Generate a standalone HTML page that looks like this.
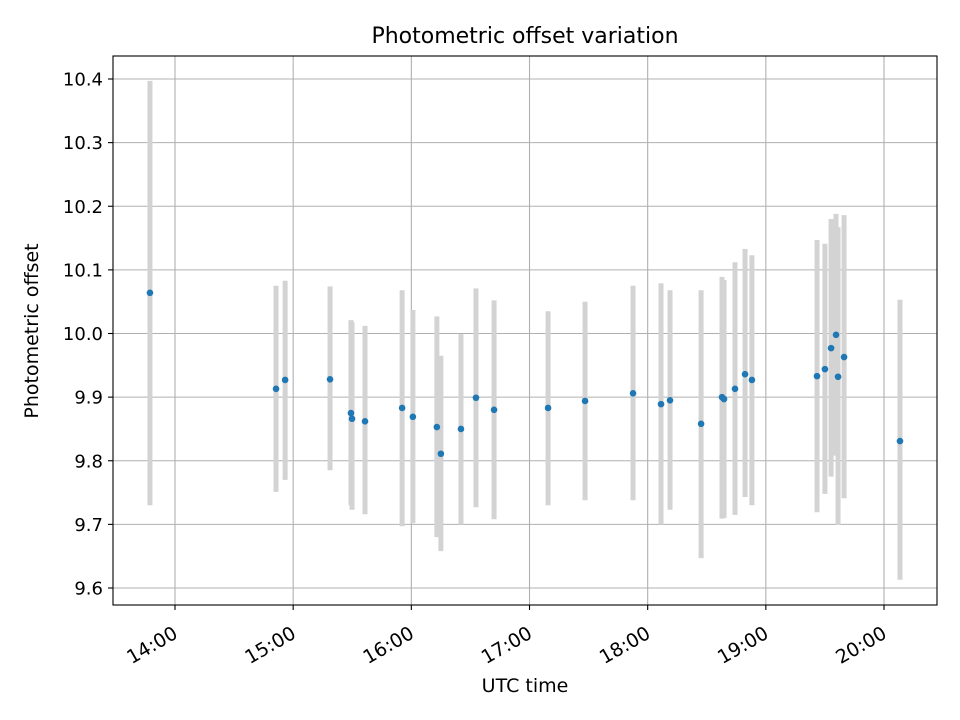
<!DOCTYPE html>
<html><head><meta charset="utf-8"><style>
body{margin:0;background:#fff;}
svg{display:block;font-family:"DejaVu Sans","Liberation Sans",sans-serif;}
</style></head><body>
<svg id="chart" width="960" height="720" viewBox="0 0 960 720" xmlns="http://www.w3.org/2000/svg">
<rect width="960" height="720" fill="#fff"/>
<g id="grid"></g><g id="bars"></g><g id="pts"></g><g id="axes"></g>
<text x="525" y="43" text-anchor="middle" font-size="22" fill="#000">Photometric offset variation</text>
<text x="525" y="692" text-anchor="middle" font-size="19" fill="#000">UTC time</text>
<text transform="translate(38,331) rotate(-90)" text-anchor="middle" font-size="19" fill="#000">Photometric offset</text>
</svg>
<script>
const times=[13.788,14.855,14.932,15.312,15.489,15.498,15.608,15.922,16.013,16.216,16.250,16.420,16.547,16.700,17.157,17.470,17.876,18.113,18.189,18.452,18.629,18.646,18.739,18.824,18.882,19.433,19.500,19.552,19.594,19.611,19.662,20.135];
const values=[10.064,9.913,9.927,9.928,9.875,9.866,9.862,9.883,9.869,9.853,9.811,9.850,9.899,9.880,9.883,9.894,9.906,9.889,9.895,9.858,9.900,9.897,9.913,9.936,9.927,9.933,9.944,9.977,9.998,9.932,9.963,9.831];
const upper=[10.397,10.075,10.083,10.074,10.021,10.018,10.012,10.068,10.037,10.027,9.965,9.999,10.071,10.052,10.035,10.050,10.075,10.079,10.068,10.068,10.089,10.084,10.112,10.133,10.123,10.147,10.141,10.180,10.188,10.167,10.186,10.053];
const lower=[9.730,9.751,9.770,9.785,9.730,9.723,9.716,9.697,9.702,9.680,9.658,9.700,9.727,9.708,9.730,9.738,9.738,9.700,9.723,9.647,9.709,9.710,9.715,9.743,9.730,9.719,9.748,9.775,9.808,9.699,9.741,9.613];
const yTicks=[9.6,9.7,9.8,9.9,10.0,10.1,10.2,10.3,10.4];
const yTickLabels=["9.6","9.7","9.8","9.9","10.0","10.1","10.2","10.3","10.4"];
const xTicks=[14,15,16,17,18,19,20];
const xTickLabels=["14:00","15:00","16:00","17:00","18:00","19:00","20:00"];
const L=113,R=937,T=56,B=605;
const xs=h=>175+(h-14)*118.17;
const ys=v=>588-(v-9.6)*636.25;
const NS="http://www.w3.org/2000/svg";
function mk(tag,attrs,parent){const e=document.createElementNS(NS,tag);for(const k in attrs)e.setAttribute(k,attrs[k]);parent.appendChild(e);return e;}
const grid=document.getElementById('grid'),bars=document.getElementById('bars'),pts=document.getElementById('pts'),axes=document.getElementById('axes');
yTicks.forEach((v,i)=>{const y=ys(v);
 const g=mk('line',{x1:L,x2:R,y1:y,y2:y,stroke:'#b0b0b0','stroke-width':1.1},grid);
 
 
 mk('line',{x1:L-5,x2:L,y1:y,y2:y,stroke:'#000','stroke-width':1.1},axes);
 const t=mk('text',{x:L-10,y:y+6.5,'text-anchor':'end','font-size':18},axes);t.textContent=yTickLabels[i];
 
 
});
xTicks.forEach((h,i)=>{const x=xs(h);
 const g=mk('line',{x1:x,x2:x,y1:T,y2:B,stroke:'#b0b0b0','stroke-width':1.1},grid);
 
 
 mk('line',{x1:x,x2:x,y1:B,y2:B+5,stroke:'#000','stroke-width':1.1},axes);
 const t=mk('text',{x:0,y:0,'text-anchor':'end','font-size':19,transform:`translate(${x+4},${B+32}) rotate(-30)`},axes);t.textContent=xTickLabels[i];
 
 
});
times.forEach((h,i)=>{const x=xs(h);
 const b=mk('line',{x1:x,x2:x,y1:ys(upper[i]),y2:ys(lower[i]),stroke:'#d3d3d3','stroke-width':5},bars);
 
 
 const c=mk('circle',{cx:x,cy:ys(values[i]),r:3.3,fill:'#1f77b4'},pts);
 
 
});
const fr=mk('rect',{x:L,y:T,width:R-L,height:B-T,fill:'none',stroke:'#000','stroke-width':1.1},axes);


</script>
</body></html>
